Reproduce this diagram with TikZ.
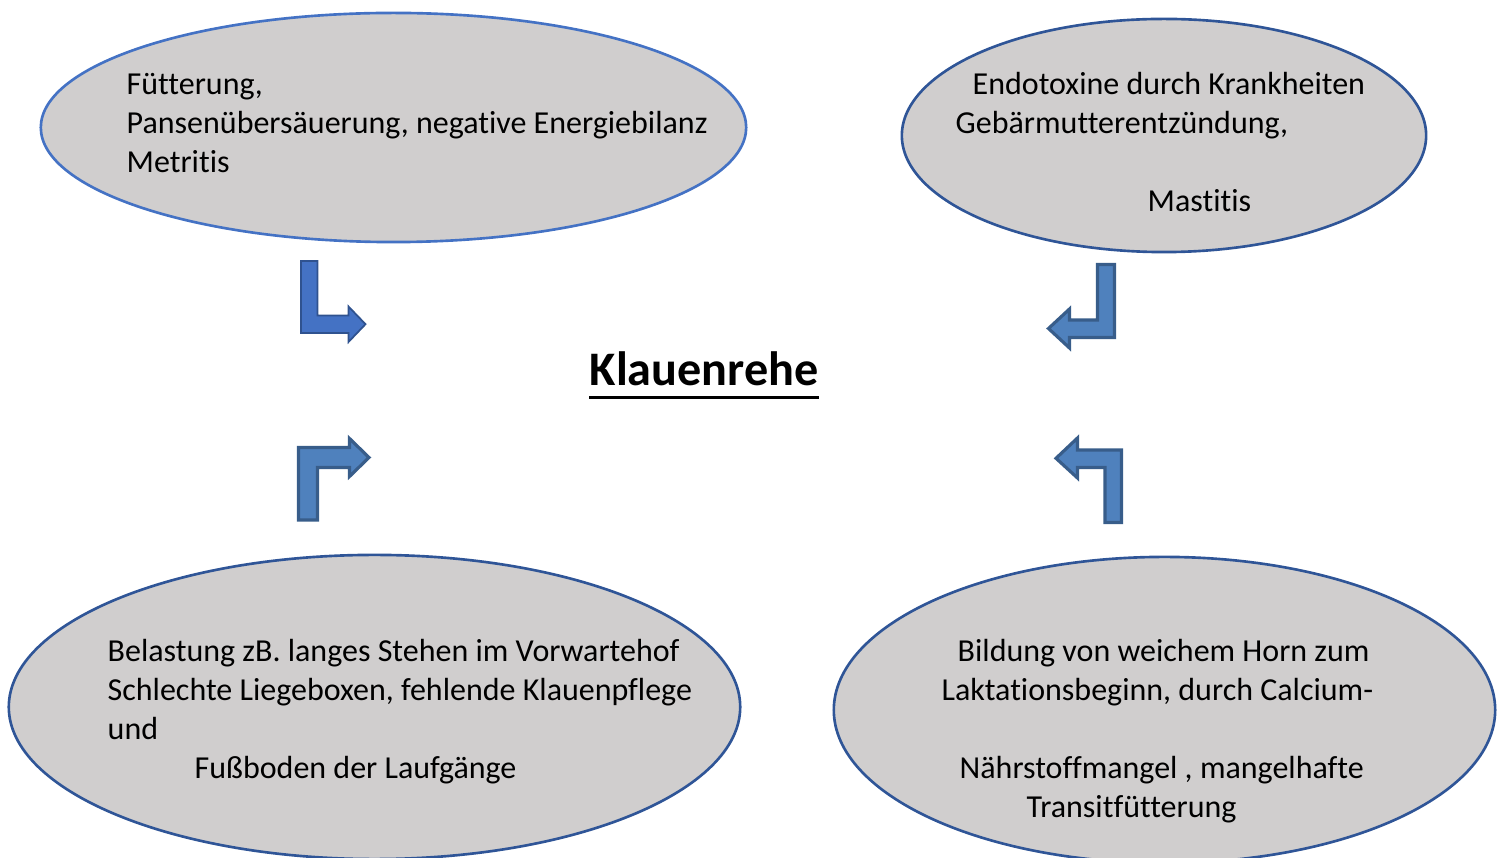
\documentclass[tikz,border=0pt]{standalone}
\usepackage{fontspec}
\setmainfont{Carlito}[Ligatures=NoCommon]
\usetikzlibrary{shapes.geometric}
\definecolor{cloud}{HTML}{D0CECE}
\definecolor{rimlight}{HTML}{4472C4}
\definecolor{rimdark}{HTML}{2F5597}
\definecolor{arrfill}{HTML}{4F81BD}
\definecolor{arrline}{HTML}{385D8A}
\definecolor{arrlinelight}{HTML}{2F528F}

\begin{document}
\begin{tikzpicture}[x=0.01cm, y=-0.01cm,
  cause/.style={ellipse, draw=rimdark, fill=cloud, line width=0.75pt, inner sep=0pt},
  txt/.style={anchor=base west, inner sep=0pt, font=\fontsize{9.1}{11.1}\selectfont},
  bent/.style={fill=arrfill, draw=arrline, line width=0.9pt, line join=miter}]
  \useasboundingbox (0,0) rectangle (1502,858);

  \node[cause, draw=rimlight, minimum width=7.05cm, minimum height=2.29cm] (feed) at (393.5,127.5) {};
  \node[cause, minimum width=5.24cm, minimum height=2.33cm] (tox) at (1164,135.5) {};
  \node[cause, minimum width=7.31cm, minimum height=3.04cm] (load) at (374.5,707) {};
  \node[cause, minimum width=6.61cm, minimum height=3.06cm] (horn) at (1164.5,710) {};

  \node[txt] (feedA) at (126,95) {Fütterung,};
  \node[txt] (feedB) at (126,134) {Pansenübersäuerung, negative Energiebilanz};
  \node[txt] (feedC) at (126,173) {Metritis};

  \node[txt] (toxA) at (972,95) {Endotoxine durch Krankheiten};
  \node[txt] (toxB) at (955,134) {Gebärmutterentzündung,};
  \node[txt] (toxC) at (1147,212) {Mastitis};

  \node[txt] (loadA) at (107,662) {Belastung zB. langes Stehen im Vorwartehof};
  \node[txt] (loadB) at (107,701) {Schlechte Liegeboxen, fehlende Klauenpflege};
  \node[txt] (loadC) at (107,740) {und};
  \node[txt] (loadD) at (194,779) {Fußboden der Laufgänge};

  \node[txt] (hornA) at (957,662) {Bildung von weichem Horn zum};
  \node[txt] (hornB) at (941,701) {Laktationsbeginn, durch Calcium-};
  \node[txt] (hornC) at (959,779) {Nährstoffmangel , mangelhafte};
  \node[txt] (hornD) at (1026,818) {Transitfütterung};

  \node[anchor=base west, inner sep=0pt, font=\fontsize{13.7}{16}\selectfont\bfseries] (title) at (589,386) {Klauenrehe};
  \draw[line width=0.95pt] ([yshift=-3.3pt]title.base west) -- ([yshift=-3.3pt]title.base east);

  \filldraw[bent, fill=rimlight, draw=arrlinelight, line width=0.5pt] (301,261) -- (317.5,261) -- (317.5,315.5) -- (348.5,315.5) -- (348.5,306.5) -- (365.5,324.2) -- (348.5,342) -- (348.5,333) -- (301,333) -- cycle;
  \filldraw[bent] (1097.5,264.5) -- (1114.5,264.5) -- (1114.5,337.5) -- (1069.5,337.5) -- (1069.5,348) -- (1048.5,328.5) -- (1069.5,309) -- (1069.5,320) -- (1097.5,320) -- cycle;
  \filldraw[bent] (298.5,520) -- (298.5,447.5) -- (349.5,447.5) -- (349.5,438.5) -- (369,457.5) -- (349.5,476.5) -- (349.5,467.5) -- (317.5,467.5) -- (317.5,520) -- cycle;
  \filldraw[bent] (1121.5,522.5) -- (1121.5,450) -- (1077.5,450) -- (1077.5,438) -- (1056,458.3) -- (1077.5,478) -- (1077.5,467.5) -- (1105,467.5) -- (1105,522.5) -- cycle;
\end{tikzpicture}
\end{document}
